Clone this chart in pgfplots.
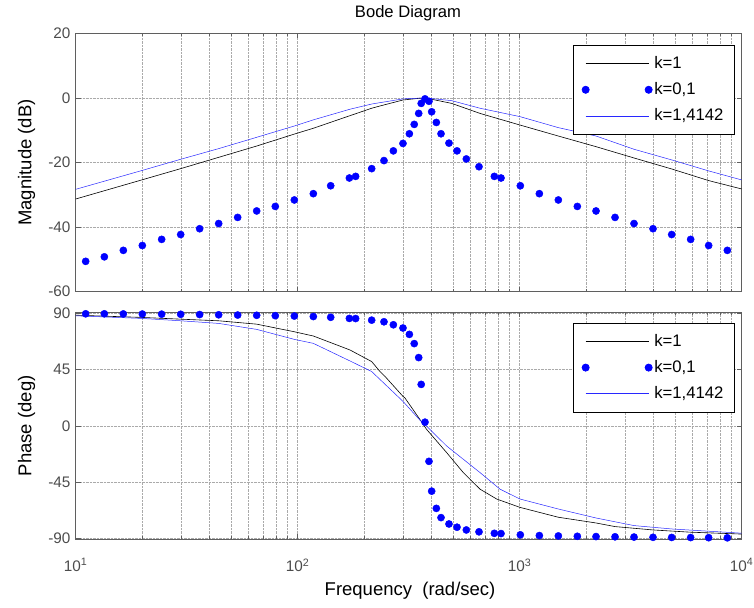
\documentclass[border=0pt]{standalone}
\usepackage{fontspec}
\setmainfont{Liberation Sans}
\usepackage{pgfplots}
\pgfplotsset{compat=1.18}
\definecolor{axgray}{RGB}{95,95,95}
\definecolor{gridgray}{RGB}{170,170,170}
\definecolor{lblue}{RGB}{40,40,255}
\pgfplotsset{
  legend image code/.code={\draw[mark repeat=2, mark phase=1, #1] plot coordinates {(0pt,0pt) (31.5pt,0pt) (63pt,0pt)};},
}

\pgfplotstableread{
w dB ph
11.09 -50.6 89.8
13.46 -49.2 89.8
16.39 -47.2 89.7
19.96 -45.7 89.6
24.39 -43.8 89.5
29.71 -42.3 89.4
36.17 -40.5 89.2
44.06 -38.9 89.0
53.65 -37.0 88.8
65.35 -35.0 88.6
79.28 -33.6 88.3
96.56 -31.6 88.0
117.6 -29.65 87.6
140.8 -27.2 87.0
170.9 -24.8 86.1
182.4 -24.3 86.0
215.4 -21.9 84.7
244.7 -19.4 83.4
269.7 -16.4 81.0
298.0 -14.1 78.4
318.4 -11.1 73.3
334.9 -8.2 65.9
350.8 -4.8 54.7
360.0 -1.7 33.2
374.5 -0.3 2.9
390.3 -1.05 -28.5
401.3 -4.3 -52.4
421.2 -7.6 -66.2
442.1 -11.1 -73.6
480.2 -14.0 -78.7
521.9 -16.4 -81.3
574.9 -18.9 -83.5
655.7 -21.3 -85.0
768.8 -24.3 -86.2
823.8 -24.8 -86.4
1006.5 -27.2 -87.4
1226 -29.65 -88.0
1493 -31.6 -88.3
1818 -33.6 -88.6
2207 -35.0 -88.8
2688 -37.0 -89.0
3273 -38.9 -89.2
3986 -40.5 -89.4
4837 -42.3 -89.5
5890 -43.8 -89.6
7098 -45.7 -89.7
8616 -47.2 -89.8
}\kzeroone

\pgfplotstableread{
w dB
10 -31.3
19.83 -25.4
29.71 -21.9
44.06 -18.4
65.35 -14.9
96.56 -11.2
117.6 -9.4
172.0 -5.5
215.4 -3.2
234.8 -2.5
298.0 -0.65
355.5 -0.1
374.5 0
493.9 -1.7
662.6 -4.8
1003 -8.4
1492 -11.8
2207 -15.1
3273 -18.6
4837 -22.0
7098 -25.6
10000 -28.2
}\konemag

\pgfplotstableread{
w dB
10 -28.3
19.83 -22.5
29.71 -19.0
44.06 -15.7
65.35 -12.2
96.56 -8.7
117.6 -6.8
172.0 -3.5
215.4 -1.9
298.0 -0.3
374.5 0
493.9 -0.85
662.6 -3.2
1003 -5.8
1492 -9.2
2207 -11.8
3273 -15.9
4837 -19.2
7098 -22.6
10000 -25.4
}\kbigmag

\pgfplotstableread{
w ph
10 88.7
19.83 86.9
29.71 85.5
44.06 84.2
65.35 81.5
96.56 75.4
117.6 72.0
172.0 60.8
215.4 51.5
234.8 43.5
247.3 39.6
298.0 23.6
304.2 22.3
355.5 5.0
380.9 -2.9
468.8 -21.5
557.0 -37.5
662.6 -50.8
787.6 -58.7
1003 -65.4
1492 -73.3
2207 -77.9
2688 -80.8
3986 -83.5
5890 -85.3
10000 -86.8
}\koneph

\pgfplotstableread{
w ph
10 88.2
19.83 86.1
29.71 84.2
44.06 82.1
65.35 77.3
96.56 69.3
117.6 66.1
172.0 52.0
215.4 43.5
298.0 19.6
355.5 4.5
380.9 -0.3
468.8 -16.2
662.6 -37.5
815.3 -50.8
1003 -58.7
1492 -66.7
2207 -73.9
3273 -80.0
4837 -82.7
7098 -84.5
10000 -86.1
}\kbigph

\begin{document}
\fontsize{15.3}{18}\selectfont
\begin{tikzpicture}[font=\fontsize{15.3}{18}\selectfont]
\useasboundingbox (0,0) rectangle (754pt,-607pt);
\node[font=\fontsize{16.6}{19}\selectfont] at (408pt,-13pt) {Bode Diagram};
\begin{axis}[at={(75.7pt,-33.3pt)}, anchor=north west,
  scale only axis, width=666pt, height=258.4pt,
  xmode=log, xmin=10, xmax=10000,
  ymin=-60, ymax=20, ytick={-60,-40,-20,0,20}, xtick={10,100,1000,10000}, xticklabels={},
  axis line style={axgray, line width=0.6pt},
  tick style={axgray, line width=0.5pt},
  tick align=inside, xtick pos=both, ytick pos=both,
  major tick length=5pt, minor tick length=3pt,
  xmajorgrids, xminorgrids, ymajorgrids,
  major grid style={gridgray, densely dotted, line width=0.5pt},
  minor grid style={gridgray, densely dotted, line width=0.5pt},
  tick label style={font=\fontsize{15.3}{18}\selectfont, text=black!70},
  /pgf/number format/assume math mode=true,
  ylabel={Magnitude (dB)},
  ylabel style={at={(axis description cs:-0.0739,0.5)}, rotate=0, anchor=center, font=\fontsize{18.5}{22}\selectfont},
  legend style={at={(axis description cs:0.747,0.955)}, anchor=north west,
    draw=black, line width=0.7pt, fill=white, font=\fontsize{16.7}{20}\selectfont,
    inner xsep=8.5pt, inner ysep=9pt, row sep=7pt,
    nodes={text height=12pt, text depth=3pt},
    /tikz/every even column/.append style={column sep=4.7pt}},
  legend cell align=left]
\addplot[color=black, draw=black, line width=0.6pt] table[x=w, y=dB] {\konemag};
\addlegendentry{k=1}
\addplot[only marks, mark=*, mark size=3.6pt, color=blue] table[x=w, y=dB] {\kzeroone};
\addlegendentry{k=0,1}
\addplot[color=lblue, draw=lblue, line width=0.5pt] table[x=w, y=dB] {\kbigmag};
\addlegendentry{k=1,4142\hspace{6pt}}
\end{axis}
\begin{axis}[at={(75.7pt,-312.3pt)}, anchor=north west,
  scale only axis, width=666pt, height=227pt,
  xmode=log, xmin=10, xmax=10000,
  ymin=-91, ymax=91, ytick={-90,-45,0,45,90}, xtick={10,100,1000,10000},
  xticklabels={10\textsuperscript{1},10\textsuperscript{2},10\textsuperscript{3},10\textsuperscript{4}},
  xticklabel style={yshift=-14pt},
  axis line style={axgray, line width=0.6pt},
  tick style={axgray, line width=0.5pt},
  tick align=inside, xtick pos=both, ytick pos=both,
  major tick length=5pt, minor tick length=3pt,
  xmajorgrids, xminorgrids, ymajorgrids,
  major grid style={gridgray, densely dotted, line width=0.5pt},
  minor grid style={gridgray, densely dotted, line width=0.5pt},
  tick label style={font=\fontsize{15.3}{18}\selectfont, text=black!70},
  /pgf/number format/assume math mode=true,
  ylabel={Phase (deg)},
  ylabel style={at={(axis description cs:-0.0739,0.5)}, rotate=0, anchor=center, font=\fontsize{18.5}{22}\selectfont},
  xlabel={Frequency\ \ (rad/sec)},
  xlabel style={at={(axis description cs:0.502,-0.225)}, anchor=center, font=\fontsize{18.5}{22}\selectfont},
  legend style={at={(axis description cs:0.747,0.954)}, anchor=north west,
    draw=black, line width=0.7pt, fill=white, font=\fontsize{16.7}{20}\selectfont,
    inner xsep=8.5pt, inner ysep=9pt, row sep=7pt,
    nodes={text height=12pt, text depth=3pt},
    /tikz/every even column/.append style={column sep=4.7pt}},
  legend cell align=left]
\addplot[color=black, draw=black, line width=0.6pt] table[x=w, y=ph] {\koneph};
\addlegendentry{k=1}
\addplot[only marks, mark=*, mark size=3.6pt, color=blue] table[x=w, y=ph] {\kzeroone};
\addlegendentry{k=0,1}
\addplot[color=lblue, draw=lblue, line width=0.5pt] table[x=w, y=ph] {\kbigph};
\addlegendentry{k=1,4142\hspace{6pt}}
\end{axis}
\end{tikzpicture}
\end{document}
